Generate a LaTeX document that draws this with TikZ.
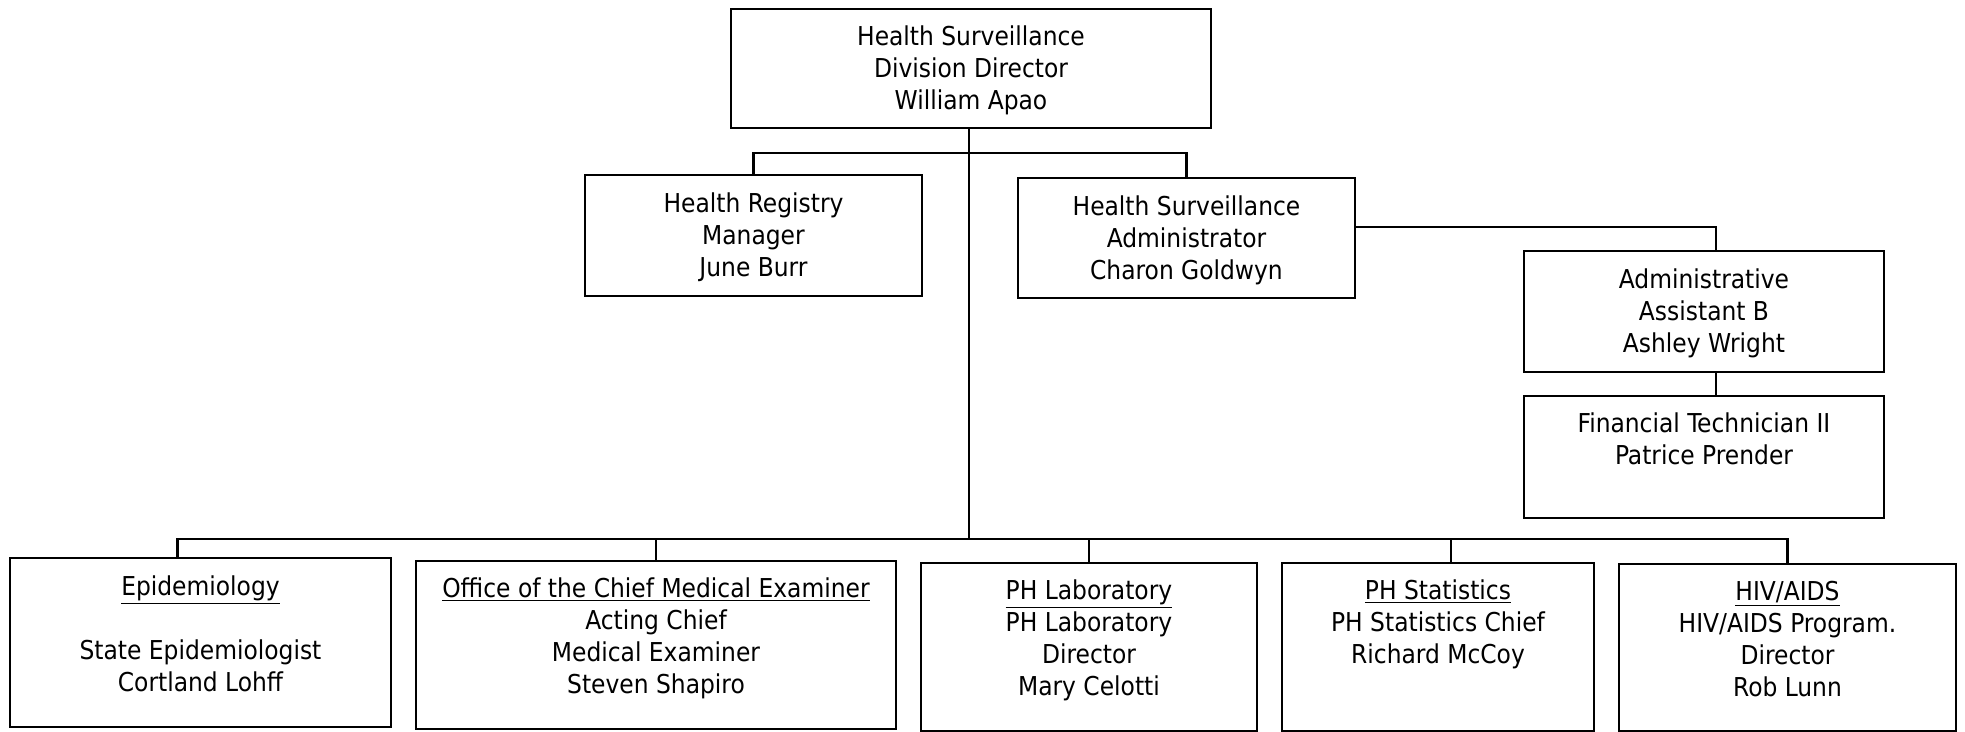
\documentclass[tikz,border=0pt]{standalone}
\usepackage{fontspec}
\setmainfont{DejaVu Sans Condensed}
\usetikzlibrary{fit, calc}

\begin{document}
\begin{tikzpicture}[x=0.02cm, y=-0.02cm, line width=1.3pt,
    box/.style={draw, inner sep=0pt},
    txt/.style={align=center, inner sep=0pt, font=\fontsize{14.8}{18.2}\selectfont}]
    \useasboundingbox (0,0) rectangle (1965,732);
    % boxes
    \node[box, fit={(731,9) (1211,128)}] (dir) {};
    \node[box, fit={(585,175) (922,296)}] (hr) {};
    \node[box, fit={(1018,178) (1355,298)}] (hsa) {};
    \node[box, fit={(1524,251) (1884,372)}] (adm) {};
    \node[box, fit={(1524,396) (1884,518)}] (fin) {};
    \node[box, fit={(10,558) (391,727)}] (epi) {};
    \node[box, fit={(416,561) (896,729)}] (ocme) {};
    \node[box, fit={(921,563) (1257,731)}] (lab) {};
    \node[box, fit={(1282,563) (1594,731)}] (stat) {};
    \node[box, fit={(1619,564) (1956,731)}] (hiv) {};
    % texts
    \node[txt] (dirt) at ($(dir)+(0,2)$) {Health Surveillance\\Division Director\\William Apao};
    \node[txt] (hrt) at ($(hr)+(0,2)$) {Health Registry\\Manager\\June Burr};
    \node[txt] (hsat) at ($(hsa)+(0,2)$) {Health Surveillance\\Administrator\\Charon Goldwyn};
    \node[txt] (admt) at ($(adm)+(0,2)$) {Administrative\\Assistant B\\Ashley Wright};
    \node[txt, anchor=north] (fint) at ($(fin.north)+(0,17)$) {Financial Technician II\\Patrice Prender};
    \node[txt, anchor=north] (epit) at ($(epi.north)+(0,18)$) {\underline{Epidemiology}\\[18.2pt]State Epidemiologist\\Cortland Lohff};
    \node[txt, anchor=north] (ocmet) at ($(ocme.north)+(0,17)$) {\underline{Office of the Chief Medical Examiner}\\Acting Chief\\Medical Examiner\\Steven Shapiro};
    \node[txt, anchor=north] (labt) at ($(lab.north)+(0,17)$) {\underline{PH Laboratory}\\PH Laboratory\\Director\\Mary Celotti};
    \node[txt, anchor=north] (statt) at ($(stat.north)+(0,17)$) {\underline{PH Statistics}\\PH Statistics Chief\\Richard McCoy};
    \node[txt, anchor=north] (hivt) at ($(hiv.north)+(0,17)$) {\underline{HIV/AIDS}\\HIV/AIDS Program.\\Director\\Rob Lunn};
    % lines
    \coordinate (br) at (969,153);
    \coordinate (side) at (1716,227);
    \coordinate (bus) at (969,539);
    \coordinate (epidrop) at ($(epi.north)+(-23,0)$);
    \coordinate (statdrop) at ($(stat.north)+(13,0)$);
    \draw (dir.south -| br) -- (bus);
    \draw (hr.north) |- (br) -| (hsa.north);
    \draw (hsa.east |- side) -| (adm.north -| side);
    \draw (adm.south -| side) -- (fin.north -| side);
    \draw (epidrop) |- (bus) -| (hiv.north);
    \draw (ocme.north) -- (ocme.north |- bus);
    \draw (lab.north) -- (lab.north |- bus);
    \draw (statdrop) -- (statdrop |- bus);
\end{tikzpicture}
\end{document}
